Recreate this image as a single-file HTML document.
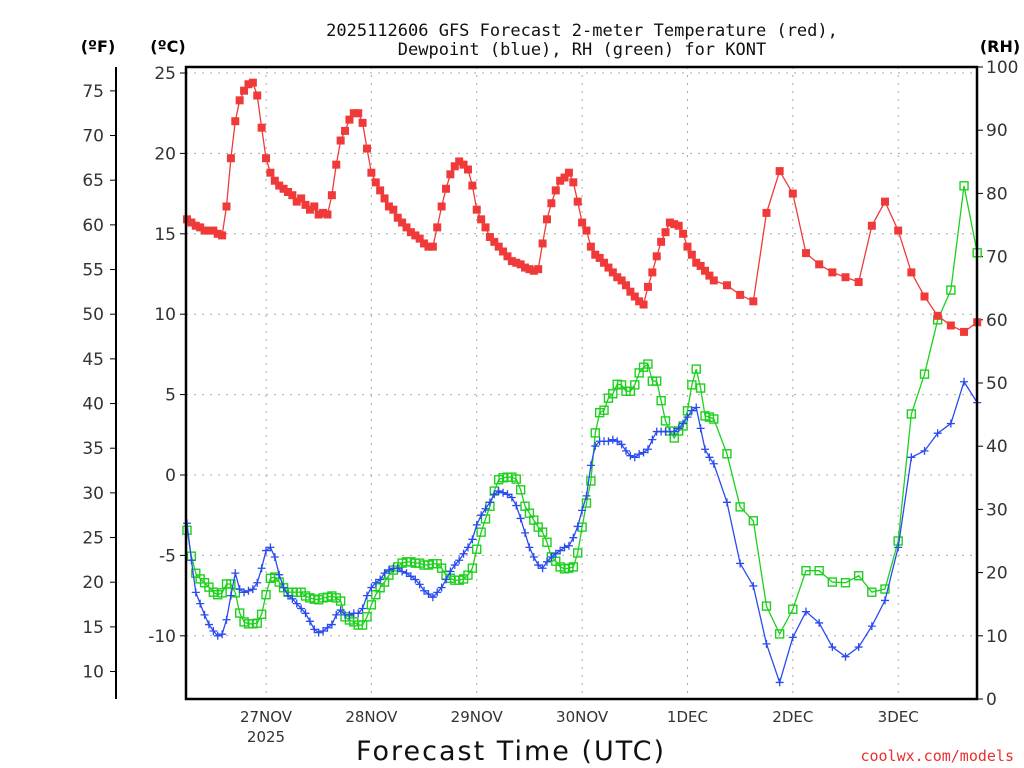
<!DOCTYPE html>
<html><head><meta charset="utf-8"><style>
body{margin:0;background:#fff}
svg{display:block;font-family:"DejaVu Sans","Liberation Sans",sans-serif}
</style></head><body>
<svg id="chart" width="1024" height="768" viewBox="0 0 1024 768" xmlns="http://www.w3.org/2000/svg">
<text x="582" y="36" text-anchor="middle" font-size="17" fill="#111" font-family="DejaVu Sans Mono, Liberation Mono, monospace">2025112606 GFS Forecast 2-meter Temperature (red),</text>
<text x="582" y="55" text-anchor="middle" font-size="17" fill="#111" font-family="DejaVu Sans Mono, Liberation Mono, monospace">Dewpoint (blue), RH (green) for KONT</text>
<text x="98" y="52" text-anchor="middle" font-size="16" font-weight="bold">(ºF)</text>
<text x="168" y="52" text-anchor="middle" font-size="16" font-weight="bold">(ºC)</text>
<text x="1000" y="52" text-anchor="middle" font-size="16" font-weight="bold">(RH)</text>
<g id="grid"></g><g id="axes"></g><g id="series"></g>
<rect x="186" y="67" width="791" height="632" fill="none" stroke="#000" stroke-width="2.5"/>
<text x="511" y="760" text-anchor="middle" font-size="27" fill="#111" font-family="DejaVu Sans, sans-serif" letter-spacing="2">Forecast Time (UTC)</text>
<text x="1014" y="761" text-anchor="end" font-size="15" fill="#e83030" font-family="DejaVu Sans Mono, monospace">coolwx.com/models</text>
</svg>
<script>
const tempC=[15.9,15.7,15.5,15.4,15.2,15.2,15.2,15.0,14.9,16.7,19.7,22.0,23.3,23.9,24.3,24.4,23.6,21.6,19.7,18.8,18.3,18.0,17.8,17.6,17.4,17.0,17.2,16.8,16.5,16.7,16.2,16.3,16.2,17.4,19.3,20.8,21.4,22.1,22.5,22.5,21.9,20.3,18.8,18.2,17.7,17.2,16.7,16.5,16.0,15.7,15.4,15.1,14.9,14.7,14.4,14.2,14.2,15.4,16.7,17.8,18.7,19.2,19.5,19.3,19.0,18.0,16.5,15.9,15.4,14.8,14.5,14.2,13.9,13.6,13.3,13.2,13.1,12.9,12.8,12.7,12.8,14.4,15.9,16.9,17.7,18.3,18.5,18.8,18.2,17.0,15.7,15.2,14.2,13.7,13.5,13.2,12.9,12.6,12.3,12.1,11.8,11.4,11.1,10.8,10.6,11.7,12.6,13.6,14.5,15.1,15.7,15.6,15.5,15.0,14.2,13.7,13.2,13.0,12.7,12.4,12.1,
11.8,11.2,10.8,16.3,18.9,17.5,13.8,13.1,12.6,12.3,12.0,15.5,17.0,15.2,12.6,11.1,9.9,9.3,8.9,9.5];
const dewC=[-3.0,-5.3,-7.3,-8.0,-8.7,-9.3,-9.7,-10.0,-9.9,-9.0,-7.5,-6.1,-7.1,-7.3,-7.2,-7.1,-6.7,-5.8,-4.7,-4.5,-5.1,-6.2,-7.0,-7.5,-7.7,-8.0,-8.3,-8.6,-9.1,-9.6,-9.8,-9.7,-9.5,-9.3,-8.7,-8.4,-8.7,-8.7,-8.6,-8.6,-8.3,-7.5,-7.0,-6.7,-6.5,-6.1,-5.9,-5.8,-5.8,-6.0,-6.1,-6.3,-6.5,-6.8,-7.2,-7.4,-7.6,-7.3,-7.0,-6.5,-6.0,-5.6,-5.3,-4.9,-4.5,-4.0,-3.1,-2.5,-2.1,-1.7,-1.2,-1.0,-1.1,-1.2,-1.4,-1.9,-2.7,-3.6,-4.5,-5.1,-5.6,-5.8,-5.4,-5.1,-4.9,-4.7,-4.5,-4.4,-3.9,-3.2,-2.2,-1.3,0.6,1.8,2.1,2.1,2.1,2.2,2.1,1.9,1.5,1.2,1.1,1.3,1.4,1.6,2.2,2.7,2.7,2.7,2.7,2.7,2.9,3.2,3.6,4.0,4.2,2.9,1.6,1.1,0.7,
-1.7,-5.5,-6.9,-10.5,-12.9,-10.1,-8.5,-9.2,-10.7,-11.3,-10.7,-9.4,-7.8,-4.5,1.1,1.5,2.6,3.2,5.8,4.5];
const rhPct=[26.7,22.6,19.9,19.0,18.4,17.7,16.9,16.5,16.8,18.2,18.2,16.8,13.6,12.2,11.9,11.9,12.0,13.4,16.5,19.1,19.3,18.5,17.6,16.9,16.9,16.9,16.9,16.3,16.0,15.8,15.7,16.0,16.1,16.3,16.0,15.5,13.0,12.5,12.2,11.7,11.7,13.0,14.9,16.5,17.6,18.5,19.6,20.4,20.9,21.5,21.7,21.7,21.5,21.5,21.2,21.2,21.4,21.4,20.7,
19.6,19.1,18.8,18.8,19.0,19.6,20.7,23.7,26.4,28.5,30.5,32.9,34.7,35.0,35.1,35.1,34.8,33.1,30.5,29.4,28.3,27.2,26.4,24.8,22.5,21.8,20.9,20.6,20.7,20.9,23.1,27.2,31.0,34.5,42.1,45.3,45.7,47.6,48.3,49.8,49.7,48.7,48.7,49.7,51.6,52.5,53.0,50.3,50.3,47.2,44.0,42.4,41.3,42.4,43.2,45.6,49.7,52.2,49.2,44.8,44.6,44.3,
38.8,30.4,28.2,14.7,10.3,14.2,20.3,20.3,18.5,18.4,19.5,16.9,17.4,25.0,45.1,51.4,60.0,64.7,81.2,70.6];
const celsiusTicks=[-10,-5,0,5,10,15,20,25];
const fahrenheitTicks=[10,15,20,25,30,35,40,45,50,55,60,65,70,75];
const rhTicks=[0,10,20,30,40,50,60,70,80,90,100];
const dayLabels=["27NOV","28NOV","29NOV","30NOV","1DEC","2DEC","3DEC"];
const dayHours=[18,42,66,90,114,138,162];
const hourlyCount=121, laterStep=3;

const NS="http://www.w3.org/2000/svg";
const X0=187,PXH=4.39;
const xOf=h=>X0+h*PXH;
const yC=c=>475-c*16.08;
const yRH=r=>699-r*6.32;
const hourOf=i=>i<hourlyCount?i:(hourlyCount-1)+laterStep*(i-hourlyCount+1);
function mk(tag,attrs,parent){const e=document.createElementNS(NS,tag);for(const k in attrs)e.setAttribute(k,attrs[k]);parent.appendChild(e);return e;}
const grid=document.getElementById('grid'),axes=document.getElementById('axes'),series=document.getElementById('series');

celsiusTicks.forEach(c=>{const y=yC(c);
 const g=mk('line',{x1:186,x2:977,y1:y,y2:y,stroke:'#aaa','stroke-dasharray':'2,6'},grid);
 
 
 mk('line',{x1:180,x2:186,y1:y,y2:y,stroke:'#000'},axes);
 const t=mk('text',{x:176,y:y+6,'text-anchor':'end','font-size':17,fill:'#333'},axes);t.textContent=c;
 
 
});
dayHours.forEach((h,i)=>{const x=xOf(h);
 const g=mk('line',{x1:x,x2:x,y1:67,y2:699,stroke:'#aaa','stroke-dasharray':'2,6'},grid);
 
 
 const t=mk('text',{x:x,y:722,'text-anchor':'middle','font-size':15,fill:'#333'},axes);t.textContent=dayLabels[i];
 
 
});
const yr=mk('text',{x:xOf(dayHours[0]),y:742,'text-anchor':'middle','font-size':15,fill:'#333'},axes);yr.textContent='2025';


const fl=mk('line',{x1:116,x2:116,y1:67,y2:699,stroke:'#000','stroke-width':2},axes);


fahrenheitTicks.forEach(f=>{const y=yC((f-32)/1.8);
 mk('line',{x1:110,x2:116,y1:y,y2:y,stroke:'#000'},axes);
 const t=mk('text',{x:104,y:y+6,'text-anchor':'end','font-size':17,fill:'#333'},axes);t.textContent=f;
 
 
});
rhTicks.forEach(r=>{const y=yRH(r);
 mk('line',{x1:977,x2:983,y1:y,y2:y,stroke:'#000'},axes);
 const t=mk('text',{x:986,y:y+6,'text-anchor':'start','font-size':17,fill:'#333'},axes);t.textContent=r;
 
 
});
function drawSeries(vals,yf,color,name,marker){
 const pts=vals.map((v,i)=>[xOf(hourOf(i)),yf(v)]);
 const g=mk('g',{},series);
 
 
 mk('polyline',{points:pts.map(p=>p.join(',')).join(' '),fill:'none',stroke:color,'stroke-width':1.3},g);
 pts.forEach(p=>{let m;
  if(marker==='fill')m=mk('rect',{x:p[0]-4,y:p[1]-4,width:8,height:8,fill:color},g);
  else if(marker==='open')m=mk('rect',{x:p[0]-4,y:p[1]-4,width:8,height:8,fill:'none',stroke:color,'stroke-width':1.4},g);
  else m=mk('path',{d:`M${p[0]-4},${p[1]}h8M${p[0]},${p[1]-4}v8`,stroke:color,'stroke-width':1.3},g);
  
  
 });
}
drawSeries(rhPct,yRH,'#1ed01e','rh','open');
drawSeries(dewC,yC,'#2a4bf0','dewpoint','plus');
drawSeries(tempC,yC,'#f03a3a','temperature','fill');
</script>
</body></html>
